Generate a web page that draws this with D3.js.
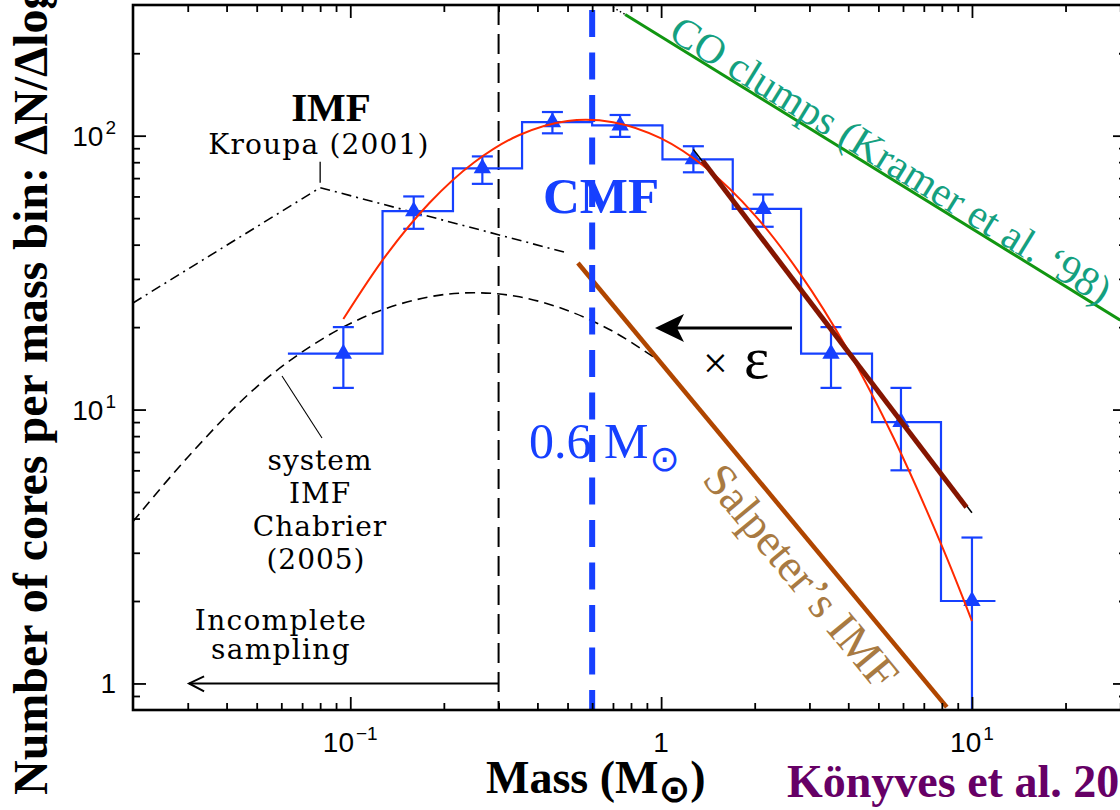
<!DOCTYPE html>
<html>
<head>
<meta charset="utf-8">
<script src="https://cdn.jsdelivr.net/npm/d3@7"></script>
<style>
  html, body { margin: 0; padding: 0; background: #fff; overflow: hidden; }
</style>
</head>
<body>
<svg id="chart" width="1120" height="810"></svg>
<script>
// ---- axis ticks -------------------------------------------------------
const xMajorTicks = [0.1, 1, 10];
const xTickBase = ["10", "1", "10"];
const xTickExp = ["\u22121", "", "1"];
const xMinorTicks = [0.03, 0.04, 0.05, 0.06, 0.07, 0.08, 0.09,
                     0.2, 0.3, 0.4, 0.5, 0.6, 0.7, 0.8, 0.9,
                     2, 3, 4, 5, 6, 7, 8, 9, 20, 30];
const yMajorTicks = [1, 10, 100];
const yTickBase = ["1", "10", "10"];
const yTickExp = ["", "1", "2"];
const yMinorTicks = [0.9, 2, 3, 4, 5, 6, 7, 8, 9,
                     20, 30, 40, 50, 60, 70, 80, 90, 200];

// ---- core mass function (Aquila) --------------------------------------
const binEdges  = [0.063, 0.127, 0.214, 0.357, 0.600, 1.01, 1.70, 2.82, 4.77, 7.95, 11.9];
const binCounts = [16, 53, 76, 112, 109, 82, 54, 16, 9, 2];
const coreMass  = [0.095, 0.160, 0.266, 0.447, 0.738, 1.27, 2.13, 3.52, 5.91, 10.0];
const coreCount = [16, 53, 76, 112, 109, 82, 54, 16, 9, 2];
const coreErrLow  = [12, 45.7, 66.7, 102, 99, 73.5, 46.5, 12, 6, 0.59];
const coreErrHigh = [20, 60, 84, 122, 119, 91.5, 61, 20, 12, 3.41];

// lognormal fit to the CMF
const fitMass  = [0.095, 0.13, 0.18, 0.25, 0.35, 0.5, 0.7, 1.0, 1.4, 2.0, 2.8, 4.0, 5.6, 8.0, 10];
const fitCount = [21.4, 36.4, 56.9, 79.8, 100.6, 113.2, 112.0, 97.7, 76.0, 51.3, 31.3, 16.4, 7.87, 3.18, 1.69];

// power-law fit to the high-mass end
const powMass  = [1.36, 9.6];
const powCount = [81, 4.4];
const powGuideMass  = [1.27, 10];
const powGuideCount = [89, 4.2];

// ---- reference mass functions -----------------------------------------
const kroupaMass = [0.02, 0.08, 0.5];
const kroupaN    = [24.5, 64.6, 37.3];
const salpeterMass = [0.54, 8.3];
const salpeterN    = [34.3, 0.82];
const chabrierMass = [0.02, 0.03, 0.05, 0.08, 0.12, 0.18, 0.25, 0.35, 0.5, 0.7, 0.95];
const chabrierN    = [3.9, 6.7, 12.1, 17.9, 22.6, 25.8, 26.7, 25.8, 23.0, 19.3, 15.5];
const coClumpMass = [0.766, 30];
const coClumpN    = [277, 21.2];
const coClumpLeadMass = [0.70, 0.766];
const coClumpLeadN    = [294, 277];

const completenessMass = 0.3;
const peakMass = 0.6;
const arrowTipMass = 0.0303;

// ---- colours ----------------------------------------------------------
const BLUE = "#1640ff";

// ---- scales -----------------------------------------------------------
const x = d3.scaleLog().domain([0.02, 31.3]).range([133, 1126]);
const y = d3.scaleLog().domain([0.8, 300]).range([710, 5]);
const [xL, xR] = x.range();
const [yB, yT] = y.range();

const svg = d3.select("#chart");
const zip = (a, b) => a.map((v, i) => [v, b[i]]);
const line = d3.line().x(d => x(d[0])).y(d => y(d[1]));

svg.append("defs").append("clipPath").attr("id", "plotArea")
  .append("rect").attr("x", xL).attr("y", yT).attr("width", xR - xL).attr("height", yB - yT);

const plot = svg.append("g").attr("clip-path", "url(#plotArea)");

// Kroupa IMF (dash-dot)
plot.append("path").datum(zip(kroupaMass, kroupaN)).attr("d", line)
  .attr("fill", "none").attr("stroke", "#000").attr("stroke-width", 1.6)
  .attr("stroke-dasharray", "10,5,2,5");

// Chabrier system IMF (dashed)
plot.append("path").datum(zip(chabrierMass, chabrierN))
  .attr("d", line.curve(d3.curveCatmullRom))
  .attr("fill", "none").attr("stroke", "#000").attr("stroke-width", 1.6)
  .attr("stroke-dasharray", "10,6");
line.curve(d3.curveLinear);

// Salpeter slope
plot.append("path").datum(zip(salpeterMass, salpeterN)).attr("d", line)
  .attr("fill", "none").attr("stroke", "#b04600").attr("stroke-width", 4.5);

// CO clump mass spectrum
plot.append("path").datum(zip(coClumpLeadMass, coClumpLeadN)).attr("d", line)
  .attr("fill", "none").attr("stroke", "#000").attr("stroke-width", 1.4)
  .attr("stroke-dasharray", "1.5,2.5");
plot.append("path").datum(zip(coClumpMass, coClumpN)).attr("d", line)
  .attr("fill", "none").attr("stroke", "#119611").attr("stroke-width", 3);

// completeness limit
plot.append("line")
  .attr("x1", x(completenessMass)).attr("x2", x(completenessMass))
  .attr("y1", yT).attr("y2", yB)
  .attr("stroke", "#000").attr("stroke-width", 2).attr("stroke-dasharray", "20,9");

// histogram
plot.append("path")
  .datum(binCounts.map((c, i) => [binEdges[i], c]).concat([[binEdges[binEdges.length - 1], binCounts[binCounts.length - 1]]]))
  .attr("d", line.curve(d3.curveStepAfter))
  .attr("fill", "none").attr("stroke", BLUE).attr("stroke-width", 2.2);
line.curve(d3.curveLinear);

// CMF peak marker
plot.append("line")
  .attr("x1", x(peakMass)).attr("x2", x(peakMass))
  .attr("y1", yT).attr("y2", yB)
  .attr("stroke", BLUE).attr("stroke-width", 6)
  .attr("stroke-dasharray", "27,15.5").attr("stroke-dashoffset", 37.5);

// error bars
const eb = plot.append("g").attr("stroke", BLUE).attr("stroke-width", 2.2);
coreMass.forEach((m, i) => {
  const cx = x(m), y1 = y(coreErrHigh[i]), y0 = y(coreErrLow[i]);
  eb.append("line").attr("x1", cx).attr("x2", cx).attr("y1", y0).attr("y2", y1);
  eb.append("line").attr("x1", cx - 10.5).attr("x2", cx + 10.5).attr("y1", y1).attr("y2", y1);
  eb.append("line").attr("x1", cx - 10.5).attr("x2", cx + 10.5).attr("y1", y0).attr("y2", y0);
});

// data points
plot.append("g").selectAll("path").data(zip(coreMass, coreCount)).join("path")
  .attr("d", d3.symbol(d3.symbolTriangle).size(130))
  .attr("transform", d => `translate(${x(d[0])},${y(d[1])})`)
  .attr("fill", BLUE);

// lognormal fit
plot.append("path").datum(zip(fitMass, fitCount))
  .attr("d", line.curve(d3.curveCatmullRom))
  .attr("fill", "none").attr("stroke", "#ff2a00").attr("stroke-width", 2);
line.curve(d3.curveLinear);

// power-law fit
plot.append("path").datum(zip(powGuideMass, powGuideCount)).attr("d", line)
  .attr("fill", "none").attr("stroke", "#000").attr("stroke-width", 1.5);
plot.append("path").datum(zip(powMass, powCount)).attr("d", line)
  .attr("fill", "none").attr("stroke", "#851500").attr("stroke-width", 5);

// ---- frame and axes ----------------------------------------------------
function ticks(axis, pos, values, size) {
  const g = svg.append("g").attr("transform", pos)
    .call(axis.tickValues(values).tickSize(size).tickSizeOuter(0).tickFormat(""));
  g.select(".domain").remove();
  g.selectAll("line").attr("stroke", "#000").attr("stroke-width", 1.8);
}
ticks(d3.axisBottom(x), `translate(0,${yB})`, xMajorTicks, -13);
ticks(d3.axisBottom(x), `translate(0,${yB})`, xMinorTicks, -7);
ticks(d3.axisTop(x), `translate(0,${yT})`, xMajorTicks, -13);
ticks(d3.axisTop(x), `translate(0,${yT})`, xMinorTicks, -7);
ticks(d3.axisLeft(y), `translate(${xL},0)`, yMajorTicks, -13);
ticks(d3.axisLeft(y), `translate(${xL},0)`, yMinorTicks, -7);
ticks(d3.axisRight(y), `translate(${xR},0)`, yMajorTicks, -13);
ticks(d3.axisRight(y), `translate(${xR},0)`, yMinorTicks, -7);

svg.append("rect").attr("x", xL).attr("y", yT).attr("width", xR - xL).attr("height", yB - yT)
  .attr("fill", "none").attr("stroke", "#000").attr("stroke-width", 2.6);

const tickFont = "'Liberation Sans', Arial, sans-serif";
svg.append("g").attr("font-family", tickFont).attr("font-size", 28)
  .selectAll("text").data(xMajorTicks).join("text")
  .attr("x", d => x(d)).attr("y", 752).attr("text-anchor", "middle")
  .each(function (d, i) {
    const t = d3.select(this);
    t.append("tspan").text(xTickBase[i]);
    if (xTickExp[i]) t.append("tspan").attr("dx", 2).attr("dy", -12).attr("font-size", 19).text(xTickExp[i]);
  });
svg.append("g").attr("font-family", tickFont).attr("font-size", 28)
  .selectAll("text").data(yMajorTicks).join("text")
  .attr("x", 116).attr("y", d => y(d) + 10).attr("text-anchor", "end")
  .each(function (d, i) {
    const t = d3.select(this);
    t.append("tspan").text(yTickBase[i]);
    if (yTickExp[i]) t.append("tspan").attr("dx", 2).attr("dy", -12).attr("font-size", 19).text(yTickExp[i]);
  });

// axis titles
const serif = "'Liberation Serif', 'Times New Roman', serif";
svg.append("text").attr("font-family", serif).attr("font-weight", "bold").attr("font-size", 48)
  .attr("transform", "translate(47,795) rotate(-90)")
  .text("Number of cores per mass bin: \u0394N/\u0394logM");

const xt = svg.append("text").attr("font-family", serif).attr("font-weight", "bold").attr("font-size", 46)
  .attr("x", 486).attr("y", 793);
xt.append("tspan").text("Mass (M");
xt.append("tspan").attr("font-family", "'DejaVu Sans', sans-serif").attr("font-size", 38).attr("dy", 9).text("\u2299");
xt.append("tspan").attr("dy", -9).text(")");

svg.append("text").attr("font-family", serif).attr("font-weight", "bold").attr("font-size", 46)
  .attr("fill", "#660066").attr("x", 787).attr("y", 797).text("K\u00f6nyves et al. 2010");

// ---- annotations -------------------------------------------------------
const note = "'DejaVu Serif', serif";

svg.append("text").attr("font-family", serif).attr("font-weight", "bold").attr("font-size", 41)
  .attr("x", 331).attr("y", 121).attr("text-anchor", "middle").text("IMF");
svg.append("text").attr("font-family", note).attr("font-size", 28).attr("letter-spacing", 1.2)
  .attr("x", 319).attr("y", 154).attr("text-anchor", "middle").text("Kroupa (2001)");
svg.append("line")
  .attr("x1", x(kroupaMass[1])).attr("x2", x(kroupaMass[1]))
  .attr("y1", y(kroupaN[1]) - 26).attr("y2", y(kroupaN[1]) - 5)
  .attr("stroke", "#000").attr("stroke-width", 1.3);

const chabLabel = ["system", "IMF", "Chabrier", "(2005)"];
svg.append("g").attr("font-family", note).attr("font-size", 28).attr("letter-spacing", 1)
  .attr("text-anchor", "middle")
  .selectAll("text").data(chabLabel).join("text")
  .attr("x", (d, i) => i === 3 ? 316 : 320).attr("y", (d, i) => 470 + i * 33).text(d => d);
svg.append("line").attr("x1", 282).attr("y1", 376).attr("x2", 322).attr("y2", 438)
  .attr("stroke", "#000").attr("stroke-width", 1.1);

svg.append("g").attr("font-family", note).attr("font-size", 28).attr("letter-spacing", 1.3)
  .attr("text-anchor", "middle")
  .selectAll("text").data(["Incomplete", "sampling"]).join("text")
  .attr("x", 281).attr("y", (d, i) => 630 + i * 29).text(d => d);

// incomplete-sampling arrow
const ay = y(1);
svg.append("line").attr("x1", x(completenessMass)).attr("x2", x(arrowTipMass))
  .attr("y1", ay).attr("y2", ay).attr("stroke", "#000").attr("stroke-width", 2);
svg.append("path")
  .attr("d", `M${x(arrowTipMass) + 15},${ay - 7} L${x(arrowTipMass)},${ay} L${x(arrowTipMass) + 15},${ay + 8}`)
  .attr("fill", "none").attr("stroke", "#000").attr("stroke-width", 2);

// CMF labels
svg.append("text").attr("font-family", serif).attr("font-weight", "bold").attr("font-size", 51)
  .attr("fill", BLUE).attr("x", 601).attr("y", 213).attr("text-anchor", "middle").text("CMF");
const pk = svg.append("text").attr("font-family", serif).attr("font-size", 50)
  .attr("fill", BLUE).attr("x", 529).attr("y", 458);
pk.append("tspan").text("0.6 M");
pk.append("tspan").attr("font-family", "'DejaVu Sans', sans-serif").attr("font-size", 36)
  .attr("dx", 1).attr("dy", 13).text("\u2299");

// efficiency arrow
svg.append("line").attr("x1", 792).attr("x2", 676).attr("y1", 328).attr("y2", 328)
  .attr("stroke", "#000").attr("stroke-width", 3.2);
svg.append("path").attr("d", "M655,328 L684,314 L677,328 L684,342 Z").attr("fill", "#000");
svg.append("text").attr("font-family", serif).attr("font-size", 44).attr("x", 703).attr("y", 378).text("\u00d7");
svg.append("text").attr("font-family", serif).attr("font-size", 60).attr("x", 744).attr("y", 378).text("\u03b5");

// rotated labels along the reference slopes
function slopeAngle(ms, ns) {
  return Math.atan2(y(ns[1]) - y(ns[0]), x(ms[1]) - x(ms[0])) * 180 / Math.PI;
}
svg.append("text").attr("font-family", serif).attr("font-size", 41.5).attr("fill", "#14a080")
  .attr("transform", `translate(667,38) rotate(${slopeAngle(coClumpMass, coClumpN)})`)
  .text("CO clumps (Kramer et al. \u201898)");
svg.append("text").attr("font-family", serif).attr("font-size", 46).attr("fill", "#a87a42")
  .attr("transform", `translate(701,480) rotate(${slopeAngle(salpeterMass, salpeterN)})`)
  .text("Salpeter\u2019s IMF");
</script>
</body>
</html>
